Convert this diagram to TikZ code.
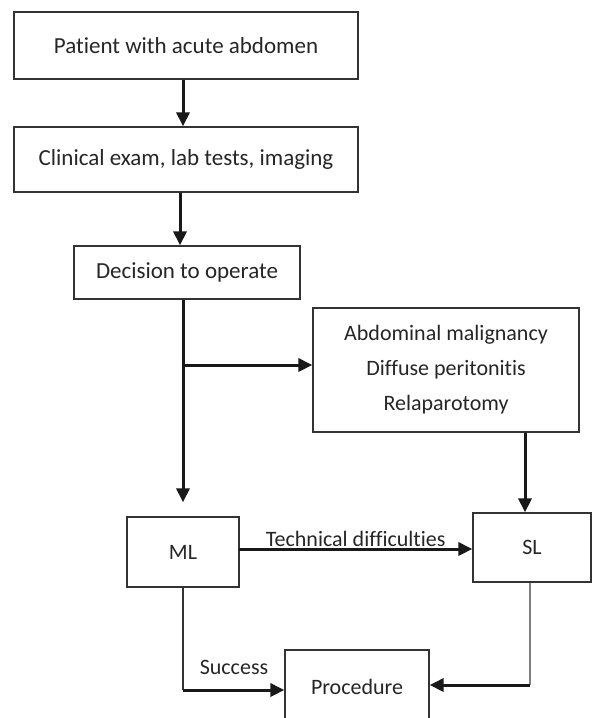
\documentclass[tikz,border=0pt]{standalone}
\usepackage{fontspec}
\setmainfont[Ligatures={NoCommon}]{Carlito}
\usetikzlibrary{arrows.meta}
\definecolor{txt}{HTML}{262626}
\definecolor{edge}{HTML}{333333}
\tikzset{
  box/.style={draw=edge, line width=1.2pt, fill=white, inner sep=0pt, align=center, text=txt},
  big/.style={font=\fontsize{23}{28}\selectfont},
  small/.style={font=\fontsize{22}{35}\selectfont},
  thk/.style={draw=black!90, line width=3pt, -{Triangle[length=14pt,width=13pt]}},
  thn/.style={draw=edge, line width=1.2pt},
  lbl/.style={text=txt, inner sep=0pt, font=\fontsize{22}{26}\selectfont}
}
\begin{document}
\begin{tikzpicture}[x=1pt,y=-1pt]
\useasboundingbox (0,0) rectangle (596,718);
\node[box,big,minimum width=344pt,minimum height=67pt] (b1) at (186,45.5) {Patient with acute abdomen};
\node[box,big,minimum width=344pt,minimum height=65pt] (b2) at (186,159.5) {Clinical exam, lab tests, imaging};
\node[box,big,minimum width=226pt,minimum height=53pt] (b3) at (187,272.5) {Decision to operate};
\node[box,small,minimum width=266pt,minimum height=124pt] (b4) at (446,370) {Abdominal malignancy\\Diffuse peritonitis\\Relaparotomy};
\node[box,small,minimum width=112pt,minimum height=70pt] (ml) at (183,552) {ML};
\node[box,small,minimum width=118pt,minimum height=69pt] (sl) at (532,547.5) {SL};
\node[box,small,minimum width=144pt,minimum height=74pt] (proc) at (357,687) {Procedure};
% connectors
\draw[thk] ([xshift=-3pt]b1.south) -- ([xshift=-3pt]b1.south |- b2.north);
\draw[thk] ([xshift=-6pt]b2.south) -- ([xshift=-6pt]b2.south |- b3.north);
\coordinate (mtop) at ([yshift=14pt]ml.north);
\draw[thk] (b3.south -| mtop) -- (mtop);
\coordinate (br) at (183,365);
\draw[thk, shorten <=-1.5pt] (br) -- (br -| b4.west);
\coordinate (sx) at ([xshift=-7pt]sl.north);
\draw[thk] (sx |- b4.south) -- (sx);
\coordinate (mr) at (239,549);
\draw[thk] (mr) -- (mr -| sl.west) node[lbl, midway, above=1pt] {Technical difficulties};
\coordinate (sc) at (183,690);
\draw[thn] (ml.south) -- (sc);
\draw[thk] (sc) -- (sc -| proc.west);
\node[lbl] (succ) at (234,667) {Success};
\coordinate (sr) at (530,685);
\draw[thn, draw=black!50] (sr |- sl.south) -- (sr);
\draw[thk] (sr) -- (sr -| proc.east);
\end{tikzpicture}
\end{document}
